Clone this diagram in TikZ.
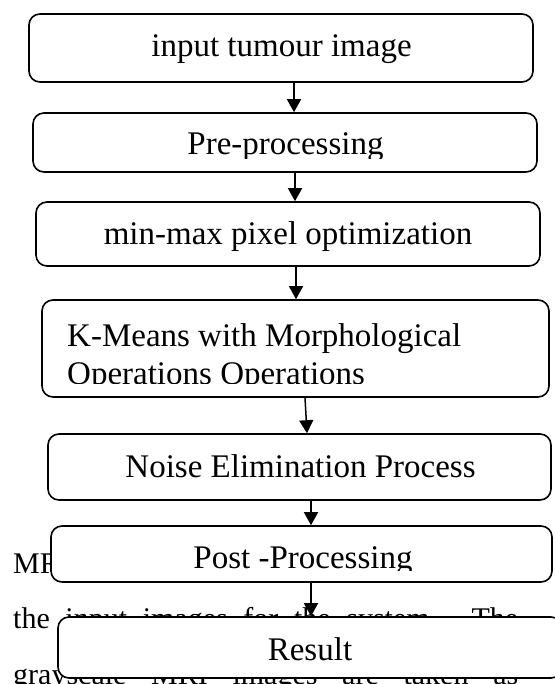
\documentclass[tikz,border=0pt]{standalone}
\usepackage{fontspec}
\setmainfont{Liberation Serif}
\usetikzlibrary{arrows.meta}

\tikzset{
  stepbox/.style={draw=black, fill=white, line width=1.6pt, rounded corners=11pt,
    inner sep=0pt, minimum width=504pt},
  boxtxt/.style={inner sep=0pt, font=\fontsize{33}{38}\selectfont, anchor=base},
  bodytxt/.style={inner sep=0pt, font=\fontsize{30}{55}\selectfont, anchor=base west},
  arr/.style={line width=1.5pt, -{Triangle[width=14pt,length=13pt]}}
}

\begin{document}
\begin{tikzpicture}[x=1pt,y=-1pt]
\useasboundingbox[fill=white] (0,0) rectangle (554,684);

% running text of the page behind the chart
\node[bodytxt] (l1) at (13,573) {MRI};
\node[bodytxt] (l2) at (13,628) {\makebox[505pt][s]{the input images for the system. The}};
\node[bodytxt] (l3) at (13,684.5) {\makebox[505pt][s]{grayscale MRI images are taken as}};

% process boxes
\node[stepbox, minimum height=68pt] (b1) at (281,48) {};
\node[stepbox, minimum height=59pt] (b2) at (285,142.5) {};
\node[stepbox, minimum height=64pt] (b3) at (288,234) {};
\node[stepbox, minimum height=97pt, minimum width=507pt] (b4) at (295.5,348.5) {};
\node[stepbox, minimum height=66pt, minimum width=503pt] (b5) at (299.5,467) {};
\node[stepbox, minimum height=56pt, minimum width=501pt] (b6) at (301.5,554) {};
\node[stepbox, minimum height=61pt] (b7) at (310,647.5) {};

% box labels (text frames cut off the lowest part of some lines)
\node[boxtxt] (t1) at (281.5,57) {input tumour image};
\begin{scope}
  \clip (32,112) rectangle (538,159);
  \node[boxtxt] (t2) at (285.5,155) {Pre-processing};
\end{scope}
\node[boxtxt] (t3) at (288,244) {min-max pixel optimization};
\begin{scope}
  \clip (41,299) rectangle (550,383);
  \node[boxtxt, anchor=base west] (t4a) at (67,346) {K-Means with Morphological};
  \node[boxtxt, anchor=base west] (t4b) at (67,384) {Operations Operations};
\end{scope}
\node[boxtxt] (t5) at (300.5,477) {Noise Elimination Process};
\begin{scope}
  \clip (50,525) rectangle (553,570);
  \node[boxtxt] (t6) at (303,568) {Post -Processing};
\end{scope}
\node[boxtxt] (t7) at (310,660) {Result};

% flow arrows
\draw[arr] ([xshift=13pt]b1.south) -- ([xshift=9pt]b2.north);
\draw[arr] ([xshift=10pt]b2.south) -- ([xshift=7pt]b3.north);
\draw[arr] ([xshift=8pt]b3.south) -- ([xshift=0.5pt]b4.north);
\draw[arr] ([xshift=9.5pt]b4.south) -- ([xshift=7.5pt]b5.north);
\draw[arr] ([xshift=11.5pt]b5.south) -- ([xshift=9.5pt]b6.north);
\draw[arr] ([xshift=9.5pt]b6.south) -- ([xshift=1pt]b7.north);
\end{tikzpicture}
\end{document}
